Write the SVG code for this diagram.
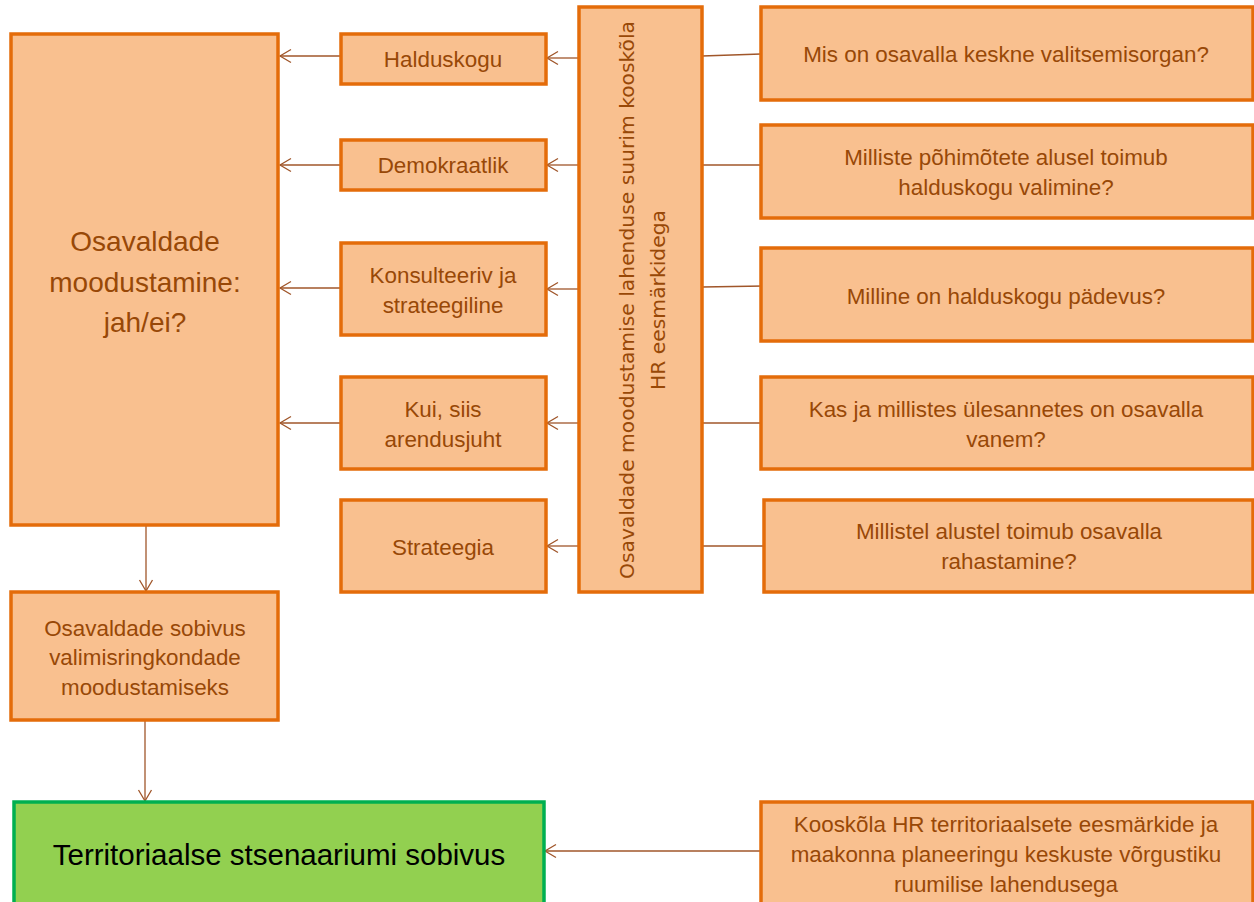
<svg xmlns="http://www.w3.org/2000/svg" width="1254" height="902" viewBox="0 0 1254 902">
<style>
.box{fill:#F9C08F;stroke:#E46C0A;stroke-width:3.5}
.gbox{fill:#92D050;stroke:#00B050;stroke-width:3.5}
.t{font-family:"Liberation Sans",Arial,sans-serif;font-size:22.4px;fill:#984807;text-anchor:middle}
.big{font-size:28px}
.vt{font-family:"DejaVu Sans","Open Sans",sans-serif;font-size:20.3px;fill:#984807;text-anchor:middle}
.gt{font-family:"Liberation Sans",Arial,sans-serif;font-size:29.5px;fill:#000;text-anchor:middle}
.c{stroke:#A0562A;stroke-width:1.3;fill:none}
</style>
<defs>
<marker id="ah" markerUnits="userSpaceOnUse" markerWidth="14" markerHeight="16" refX="12" refY="7" orient="auto" overflow="visible">
<path d="M1,0.5 L12,7 L1,13.5" fill="none" stroke="#A0562A" stroke-width="1.3"/>
</marker>
</defs>
<rect width="1254" height="902" fill="#FFFFFF"/>
<g id="connectors">
<line class="c" x1="578" y1="58" x2="547" y2="58" marker-end="url(#ah)"/>
<line class="c" x1="578" y1="165" x2="547" y2="165" marker-end="url(#ah)"/>
<line class="c" x1="578" y1="289" x2="547" y2="289" marker-end="url(#ah)"/>
<line class="c" x1="578" y1="423" x2="547" y2="423" marker-end="url(#ah)"/>
<line class="c" x1="578" y1="546" x2="547" y2="546" marker-end="url(#ah)"/>
<line class="c" x1="340" y1="56" x2="280" y2="56" marker-end="url(#ah)"/>
<line class="c" x1="340" y1="165" x2="280" y2="165" marker-end="url(#ah)"/>
<line class="c" x1="340" y1="288" x2="280" y2="288" stroke-width="2" marker-end="url(#ah)"/>
<line class="c" x1="340" y1="423" x2="280" y2="423" marker-end="url(#ah)"/>
<line class="c" x1="702" y1="56" x2="761" y2="54"/>
<line class="c" x1="702" y1="165" x2="761" y2="165"/>
<line class="c" x1="702" y1="287" x2="765" y2="286"/>
<line class="c" x1="702" y1="423" x2="765" y2="423"/>
<line class="c" x1="702" y1="546" x2="764" y2="546"/>
<line class="c" x1="146" y1="525" x2="146" y2="591" marker-end="url(#ah)"/>
<line class="c" x1="145" y1="720" x2="145" y2="801" marker-end="url(#ah)"/>
<line class="c" x1="761" y1="851" x2="545" y2="851" marker-end="url(#ah)"/>
</g>
<g id="n-main">
<rect class="box" x="11" y="34" width="267" height="491"/>
<text class="t big" x="145" y="251">Osavaldade</text>
<text class="t big" x="145" y="292">moodustamine:</text>
<text class="t big" x="145" y="332">jah/ei?</text>
</g>
<g id="n-halduskogu">
<rect class="box" x="341" y="34" width="205" height="50"/>
<text class="t" x="443" y="67">Halduskogu</text>
</g>
<g id="n-demokraatlik">
<rect class="box" x="341" y="140" width="205" height="50"/>
<text class="t" x="443" y="173">Demokraatlik</text>
</g>
<g id="n-konsulteeriv">
<rect class="box" x="341" y="243" width="205" height="92"/>
<text class="t" x="443" y="283">Konsulteeriv ja</text>
<text class="t" x="443" y="313">strateegiline</text>
</g>
<g id="n-kui">
<rect class="box" x="341" y="377" width="205" height="92"/>
<text class="t" x="443" y="417">Kui, siis</text>
<text class="t" x="443" y="447">arendusjuht</text>
</g>
<g id="n-strateegia">
<rect class="box" x="341" y="500" width="205" height="92"/>
<text class="t" x="443" y="555">Strateegia</text>
</g>
<g id="n-vertical">
<rect class="box" x="579" y="7" width="123" height="585"/>
<text class="vt" transform="translate(634,300) rotate(-90)" x="0" y="0">Osavaldade moodustamise lahenduse suurim kooskõla</text>
<text class="vt" transform="translate(665,300) rotate(-90)" x="0" y="0">HR eesmärkidega</text>
</g>
<g id="n-q1">
<rect class="box" x="761" y="7" width="492" height="93"/>
<text class="t" x="1006" y="62">Mis on osavalla keskne valitsemisorgan?</text>
</g>
<g id="n-q2">
<rect class="box" x="761" y="125" width="492" height="93"/>
<text class="t" x="1006" y="165">Milliste põhimõtete alusel toimub</text>
<text class="t" x="1006" y="195">halduskogu valimine?</text>
</g>
<g id="n-q3">
<rect class="box" x="761" y="248" width="492" height="93"/>
<text class="t" x="1006" y="304">Milline on halduskogu pädevus?</text>
</g>
<g id="n-q4">
<rect class="box" x="761" y="377" width="492" height="92"/>
<text class="t" x="1006" y="417">Kas ja millistes ülesannetes on osavalla</text>
<text class="t" x="1006" y="447">vanem?</text>
</g>
<g id="n-q5">
<rect class="box" x="764" y="500" width="489" height="92"/>
<text class="t" x="1009" y="539">Millistel alustel toimub osavalla</text>
<text class="t" x="1009" y="569">rahastamine?</text>
</g>
<g id="n-sobivus">
<rect class="box" x="11" y="592" width="267" height="128"/>
<text class="t" x="145" y="636">Osavaldade sobivus</text>
<text class="t" x="145" y="665">valimisringkondade</text>
<text class="t" x="145" y="695">moodustamiseks</text>
</g>
<g id="n-territoriaalse">
<rect class="gbox" x="14" y="802" width="530" height="110"/>
<text class="gt" x="279" y="865">Territoriaalse stsenaariumi sobivus</text>
</g>
<g id="n-kooskola">
<rect class="box" x="761" y="802" width="492" height="110"/>
<text class="t" x="1006" y="832">Kooskõla HR territoriaalsete eesmärkide ja</text>
<text class="t" x="1006" y="862">maakonna planeeringu keskuste võrgustiku</text>
<text class="t" x="1006" y="892">ruumilise lahendusega</text>
</g>
</svg>
